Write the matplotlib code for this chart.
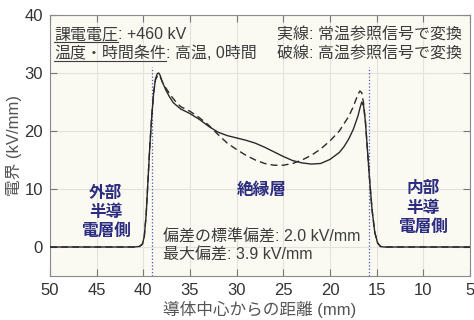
import matplotlib
matplotlib.use('Agg')
import matplotlib.pyplot as plt
from matplotlib.lines import Line2D

plt.rcParams['font.family'] = ['Liberation Sans', 'Noto Sans CJK JP', 'DejaVu Sans']

# Distance from conductor centre (mm) and electric field (kV/mm)
solid_x = [50, 45, 41, 40.4, 40.1, 39.9, 39.7, 39.5, 39.3, 39.1, 38.9, 38.7, 38.5, 38.35,
           38.2, 38.0, 37.6, 37.2, 36.8, 36.0, 35.0, 34.0, 33.0, 32.0, 31.0, 30.0, 29.0,
           28.0, 27.0, 26.0, 25.0, 24.0, 23.0, 22.0, 21.0, 20.0, 19.0, 18.5, 18.0, 17.5,
           17.0, 16.8, 16.6, 16.4, 16.2, 16.0, 15.8, 15.5, 15.2, 14.9, 14.6, 14.2, 10, 5]
solid_y = [0, 0, 0, 0.1, 0.5, 1.8, 5.5, 11.5, 17.5, 22.5, 26.5, 29.0, 29.9, 30.0,
           29.6, 28.6, 27.1, 25.9, 24.9, 23.8, 23.0, 22.0, 20.8, 19.8, 19.2, 18.8, 18.4,
           17.9, 17.2, 16.4, 15.6, 14.9, 14.5, 14.3, 14.4, 15.1, 16.3, 17.3, 18.6, 20.3,
           22.6, 23.9, 25.0, 24.3, 21.5, 17.0, 12.5, 6.5, 2.5, 0.7, 0.1, 0, 0, 0]

dash_x = [50, 45, 41, 40.4, 40.1, 39.9, 39.7, 39.5, 39.3, 39.1, 38.9, 38.7, 38.5, 38.3,
          38.1, 37.9, 37.5, 37.1, 36.5, 36.0, 35.0, 34.0, 33.0, 32.0, 31.0, 30.0, 29.0,
          28.0, 27.0, 26.0, 25.0, 24.0, 23.0, 22.0, 21.0, 20.0, 19.0, 18.0, 17.5, 17.2,
          17.0, 16.8, 16.6, 16.4, 16.2, 16.0, 15.8, 15.5, 15.2, 14.9, 14.6, 14.2, 10, 5]
dash_y = [0, 0, 0, 0.1, 0.5, 1.8, 5.5, 11.5, 17.5, 22.5, 26.5, 28.8, 29.5, 29.6,
          29.0, 28.2, 27.2, 26.2, 25.0, 24.2, 23.4, 22.3, 21.0, 19.4, 17.9, 16.8, 15.8,
          15.0, 14.4, 14.1, 14.1, 14.4, 15.0, 15.8, 16.9, 18.3, 20.0, 22.5, 24.2, 25.5,
          26.3, 26.9, 26.6, 24.8, 21.5, 17.0, 12.5, 6.5, 2.5, 0.7, 0.1, 0, 0, 0]

boundary_x = [39.1, 15.8]
x_ticks = [50, 45, 40, 35, 30, 25, 20, 15, 10, 5]
y_ticks = [0, 10, 20, 30, 40]

fig = plt.figure(figsize=(4.74, 3.2), dpi=100)
ax = fig.add_axes([50/474, 44/320, 420/474, 261/320])
ax.set_facecolor('#fafaf3')

ax.plot(solid_x, solid_y, color='#2a2a2a', lw=1.0, zorder=3)
ax.plot(dash_x, dash_y, color='#2a2a2a', lw=1.0, ls=(0, (5, 3)), zorder=3)
for bx in boundary_x:
    ax.plot([bx, bx], [-5, 31], color='#5050b8', lw=0.9, ls=':', zorder=2)

ax.set_xlim(50, 5)
ax.set_ylim(-5, 40)
ax.set_xticks(x_ticks)
ax.set_yticks(y_ticks)
ax.grid(True, color='#e2e2de', lw=0.8, zorder=0)
ax.set_axisbelow(True)
ax.tick_params(direction='in', top=True, right=True, length=5, width=0.8,
               color='#777777', labelcolor='#333333', labelsize=12, pad=5)
for s in ax.spines.values():
    s.set_color('#8a8a8a')
    s.set_linewidth(0.8)

ax.set_xlabel('導体中心からの距離 (mm)', fontsize=12, color='#555555', labelpad=2)
ax.set_ylabel('電界 (kV/mm)', fontsize=12, color='#555555', labelpad=2)

tc = '#3c3c3c'
fs = 11.5
y1, y2 = 0.908, 0.834
ta = ax.text(0.0095, y1, '課電電圧', transform=ax.transAxes, va='baseline', fontsize=fs, color=tc)
tb = ax.text(0.0095, y2, '温度・時間条件', transform=ax.transAxes, va='baseline', fontsize=fs, color=tc)
ax.text(0.981, y1, '実線: 常温参照信号で変換', transform=ax.transAxes, va='baseline', ha='right', fontsize=fs, color=tc)
ax.text(0.981, y2, '破線: 高温参照信号で変換', transform=ax.transAxes, va='baseline', ha='right', fontsize=fs, color=tc)

ax.text(37.9, 1.7, '偏差の標準偏差: 2.0 kV/mm', fontsize=fs, color=tc, va='center')
ax.text(37.9, -1.3, '最大偏差: 3.9 kV/mm', fontsize=fs, color=tc, va='center')

lc = '#2c2c80'
ax.text(44.05, 6.0, '外部\n半導\n電層側', fontsize=12, color=lc, ha='center', va='center',
        fontweight='bold', linespacing=1.3)
ax.text(27.3, 9.8, '絶縁層', fontsize=12, color=lc, ha='center', va='center', fontweight='bold')
ax.text(10.0, 6.7, '内部\n半導\n電層側', fontsize=12, color=lc, ha='center', va='center',
        fontweight='bold', linespacing=1.3)

fig.canvas.draw()
r = fig.canvas.get_renderer()
inv = ax.transAxes.inverted()
for t, rest, yy in [(ta, ': +460 kV', y1), (tb, ': 高温, 0時間', y2)]:
    bb = t.get_window_extent(r)
    x0 = inv.transform((bb.x0, 0))[0]
    x1 = inv.transform((bb.x1, 0))[0]
    ax.text(x1, yy, rest, transform=ax.transAxes, va='baseline', fontsize=fs, color=tc)
    yl = yy - 2.5 / 261
    ax.add_line(Line2D([x0, x1], [yl, yl], transform=ax.transAxes, color=tc, lw=0.8))

fig.savefig('out.png', dpi=100)
